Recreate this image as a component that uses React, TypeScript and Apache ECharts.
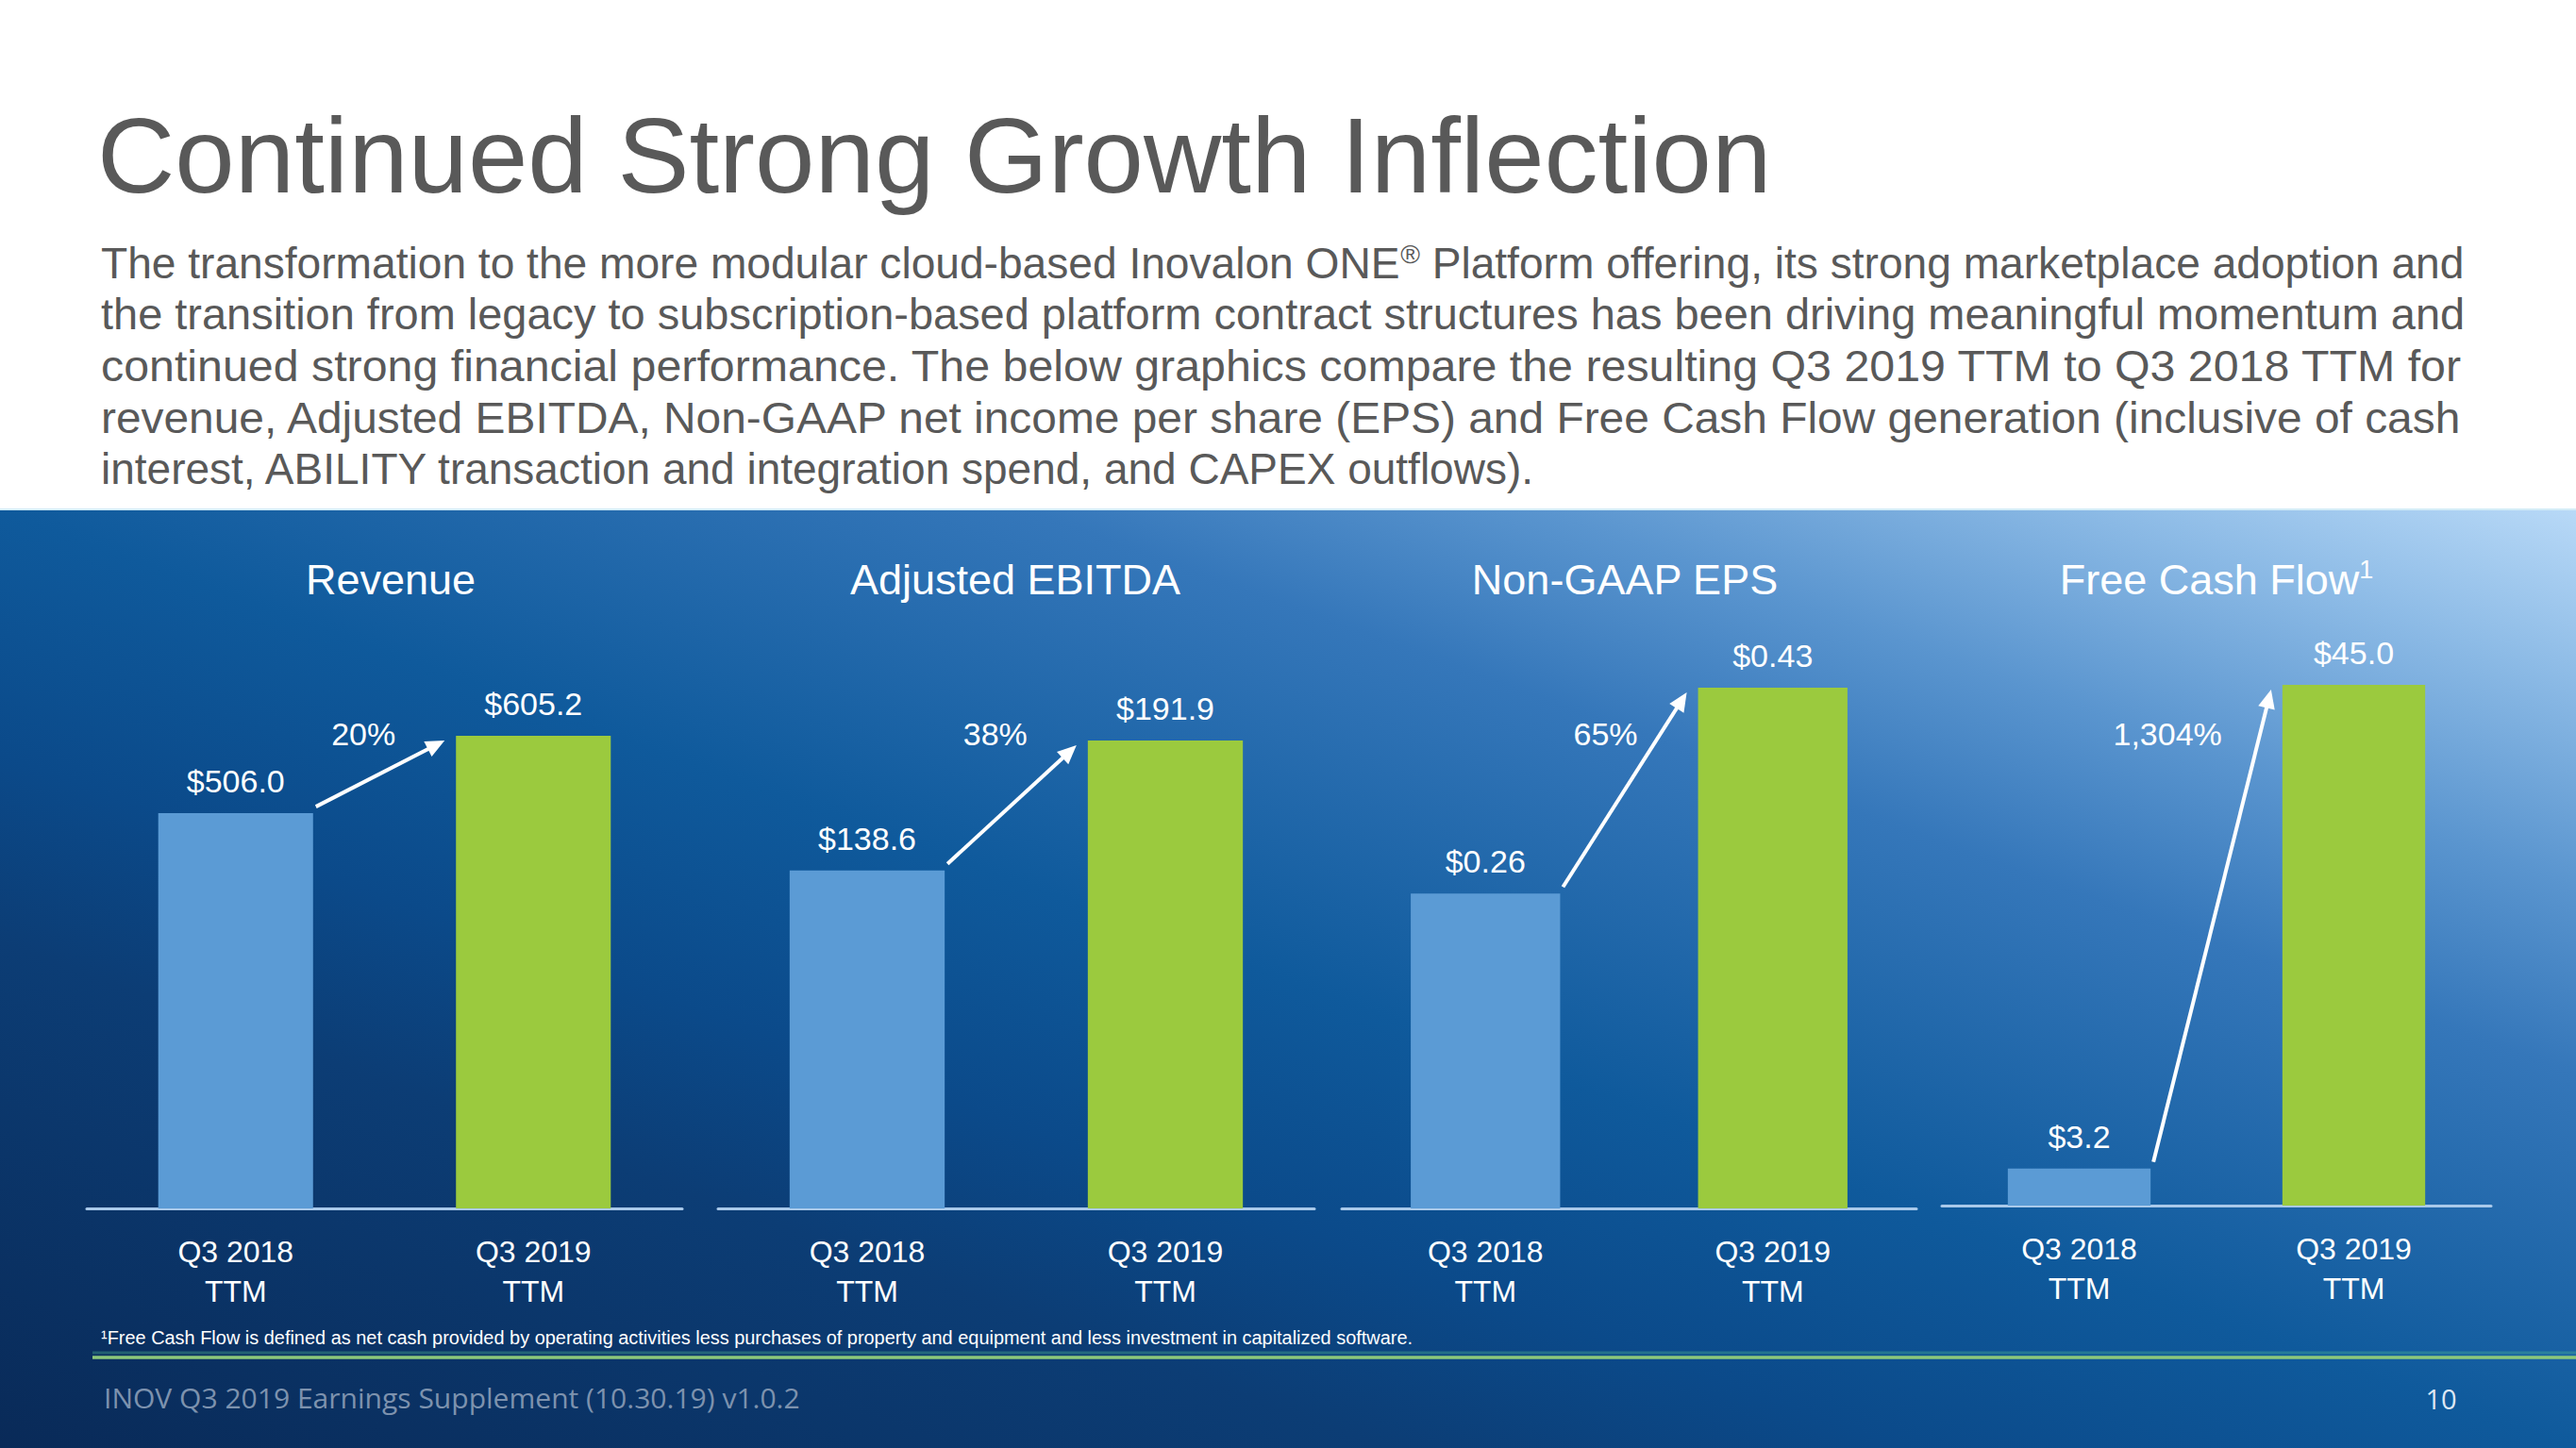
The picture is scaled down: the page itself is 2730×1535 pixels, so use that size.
import React, { useEffect, useRef } from 'react';
import * as echarts from 'echarts';

// ---------- data ----------
const titleText = 'Continued Strong Growth Inflection';
const bodyLine1A = 'The transformation to the more modular cloud-based Inovalon ONE';
const bodyLine1Sup = '®';
const bodyLine1B = ' Platform offering, its strong marketplace adoption and';
const bodyLines = [
  'the transition from legacy to subscription-based platform contract structures has been driving meaningful momentum and',
  'continued strong financial performance. The below graphics compare the resulting Q3 2019 TTM to Q3 2018 TTM for',
  'revenue, Adjusted EBITDA, Non-GAAP net income per share (EPS) and Free Cash Flow generation (inclusive of cash',
  'interest, ABILITY transaction and integration spend, and CAPEX outflows).',
];
const panelTitles = ['Revenue', 'Adjusted EBITDA', 'Non-GAAP EPS', 'Free Cash Flow'];
const panelTitleSup = ['', '', '', '1'];
const categories = ['Q3 2018\nTTM', 'Q3 2019\nTTM'];
const valuesQ3_2018 = [506.0, 138.6, 0.26, 3.2];
const valuesQ3_2019 = [605.2, 191.9, 0.43, 45.0];
const valueDecimals = [1, 1, 2, 1];
const growthLabels = ['20%', '38%', '65%', '1,304%'];
const axisMax = [701.8, 224.8, 0.4526, 47.12];
const footnote =
  '¹Free Cash Flow is defined as net cash provided by operating activities less purchases of property and equipment and less investment in capitalized software.';
const footerText = 'INOV Q3 2019 Earnings Supplement (10.30.19) v1.0.2';
const pageNumber = '10';

// ---------- layout / style ----------
const W = 2730;
const H = 1535;
const FONT = '"Liberation Sans", Arial, Helvetica, sans-serif';
const FOOT_FONT = '"Open Sans", "Liberation Sans", sans-serif';
const BLUE = '#5b9bd5';
const GREEN = '#9bca3e';
const GREY = '#595959';
const gridLeft = [92, 761, 1422, 2058];
const gridWidth = [631, 632, 609, 582];
const gridTop = 700;
const gridBottom = [1281, 1281, 1281, 1278];
const titleX = [414, 1076, 1722, 2349];
const panelTop = 541;

let measureCtx: CanvasRenderingContext2D | null = null;
function measure(text: string, font: string): number {
  if (!measureCtx) measureCtx = document.createElement('canvas').getContext('2d');
  if (!measureCtx) return 1;
  measureCtx.font = font;
  return measureCtx.measureText(text).width;
}

function txt(x: number, y: number, text: string, font: string, fill: string, align = 'left', extra: any = {}) {
  return {
    type: 'text',
    x,
    y,
    ...extra,
    style: {
      text,
      font,
      fill,
      align,
      textAlign: align,
      verticalAlign: 'middle',
      textVerticalAlign: 'middle',
      ...(extra.style || {}),
    },
  };
}

function makeArrow(i: number) {
  return (params: any, api: any) => {
    const a = api.coord([api.value(0), api.value(1)]);
    const b = api.coord([api.value(2), api.value(3)]);
    const band = api.size([1, 0])[0];
    const half = band * 0.26;
    const sx = a[0] + half + 3;
    const sy = a[1] - 7;
    const ex = b[0] - half - 12;
    const ey = b[1] + 5;
    const ang = Math.atan2(ey - sy, ex - sx);
    const c = Math.cos(ang);
    const s = Math.sin(ang);
    const L = 20;
    const Wd = 9;
    const bx = ex - L * c;
    const by = ey - L * s;
    return {
      type: 'group',
      children: [
        {
          type: 'line',
          shape: { x1: sx, y1: sy, x2: bx + 2 * c, y2: by + 2 * s },
          style: { stroke: '#ffffff', lineWidth: 4 },
        },
        {
          type: 'polygon',
          shape: {
            points: [
              [ex, ey],
              [bx + Wd * s, by - Wd * c],
              [bx - Wd * s, by + Wd * c],
            ],
          },
          style: { fill: '#ffffff' },
        },
        {
          type: 'text',
          x: ex - 52,
          y: params.coordSys.y + 78,
          style: {
            text: growthLabels[i],
            font: `34px ${FONT}`,
            fill: '#ffffff',
            align: 'right',
            textAlign: 'right',
            verticalAlign: 'middle',
            textVerticalAlign: 'middle',
          },
        },
      ],
    };
  };
}

function buildOption() {
  const grid: any[] = [];
  const xAxis: any[] = [];
  const yAxis: any[] = [];
  const series: any[] = [];
  for (let i = 0; i < 4; i++) {
    grid.push({
      left: gridLeft[i],
      top: gridTop,
      width: gridWidth[i],
      height: gridBottom[i] - gridTop,
      containLabel: false,
      outerBoundsMode: 'none',
    });
    xAxis.push({
      type: 'category',
      gridIndex: i,
      data: categories,
      axisLine: { show: true, lineStyle: { color: '#a9c9ea', width: 3 } },
      axisTick: { show: false },
      splitLine: { show: false },
      axisLabel: {
        color: '#ffffff',
        fontSize: 32,
        lineHeight: 42,
        margin: 25,
        fontFamily: FONT,
        interval: 0,
      },
    });
    yAxis.push({ type: 'value', gridIndex: i, min: 0, max: axisMax[i], show: false });
    series.push({
      type: 'bar',
      name: panelTitles[i],
      xAxisIndex: i,
      yAxisIndex: i,
      barWidth: '52%',
      z: 2,
      data: [
        { value: valuesQ3_2018[i], itemStyle: { color: BLUE } },
        { value: valuesQ3_2019[i], itemStyle: { color: GREEN } },
      ],
      label: {
        show: true,
        position: 'top',
        distance: 17,
        color: '#ffffff',
        fontSize: 34,
        fontFamily: FONT,
        formatter: (p: any) => '$' + Number(p.value).toFixed(valueDecimals[i]),
      },
    });
    series.push({
      type: 'custom',
      xAxisIndex: i,
      yAxisIndex: i,
      z: 4,
      silent: true,
      data: [[0, valuesQ3_2018[i], 1, valuesQ3_2019[i]]],
      encode: { x: [0, 2], y: [1, 3] },
      renderItem: makeArrow(i),
    });
  }

  const bodyFont = `46px ${FONT}`;
  const bodyLeft = 107;
  const bodyWidth = 2505;
  const bodyY0 = 279;
  const bodyStep = 54.5;
  const graphics: any[] = [];

  // background panel
  graphics.push({
    type: 'rect',
    z: -5,
    shape: { x: 0, y: panelTop, width: W, height: H - panelTop },
    style: {
      fill: {
        type: 'linear',
        global: true,
        x: 0,
        y: H,
        x2: 639,
        y2: -220,
        colorStops: [
          { offset: 0, color: '#092a58' },
          { offset: 0.27, color: '#0c3d75' },
          { offset: 0.37, color: '#0b4a8a' },
          { offset: 0.5, color: '#0f5a9c' },
          { offset: 0.7, color: '#3577ba' },
          { offset: 0.8, color: '#5a95cf' },
          { offset: 0.91, color: '#8dbbe6' },
          { offset: 1, color: '#b8d9f7' },
        ],
      },
    },
  });
  graphics.push({
    type: 'line',
    z: -4,
    shape: { x1: 0, y1: panelTop - 1, x2: W, y2: panelTop - 1 },
    style: { stroke: '#d3ecf7', lineWidth: 2 },
  });

  // title
  graphics.push(txt(103, 164, titleText, `114px ${FONT}`, GREY));

  // body line 1 (with superscript)
  const w1 = measure(bodyLine1A, bodyFont) + measure(bodyLine1Sup, `28px ${FONT}`) + measure(bodyLine1B, bodyFont);
  graphics.push({
    type: 'text',
    x: bodyLeft,
    y: bodyY0,
    scaleX: bodyWidth / w1,
    style: {
      text: `{a|${bodyLine1A}}{s|${bodyLine1Sup}}{a|${bodyLine1B}}`,
      fill: GREY,
      font: bodyFont,
      align: 'left',
      textAlign: 'left',
      verticalAlign: 'middle',
      textVerticalAlign: 'middle',
      rich: {
        a: { fontSize: 46, fontFamily: FONT, fill: GREY, lineHeight: 46 },
        s: { fontSize: 28, fontFamily: FONT, fill: GREY, verticalAlign: 'top', lineHeight: 30 },
      },
    },
  });
  bodyLines.forEach((line, k) => {
    const isLast = k === bodyLines.length - 1;
    const nat = measure(line, bodyFont);
    graphics.push(
      txt(bodyLeft, bodyY0 + (k + 1) * bodyStep, line, bodyFont, GREY, 'left', {
        scaleX: isLast ? 1 : bodyWidth / nat,
      })
    );
  });

  // panel titles
  panelTitles.forEach((t, i) => {
    if (panelTitleSup[i]) {
      graphics.push({
        type: 'text',
        x: titleX[i],
        y: 614,
        z: 5,
        style: {
          text: `{t|${t}}{s|${panelTitleSup[i]}}`,
          fill: '#ffffff',
          font: `45px ${FONT}`,
          align: 'center',
          textAlign: 'center',
          verticalAlign: 'middle',
          textVerticalAlign: 'middle',
          rich: {
            t: { fontSize: 45, fontFamily: FONT, fill: '#ffffff', lineHeight: 48 },
            s: { fontSize: 27, fontFamily: FONT, fill: '#ffffff', verticalAlign: 'top', lineHeight: 30 },
          },
        },
      });
    } else {
      graphics.push(txt(titleX[i], 614, t, `45px ${FONT}`, '#ffffff', 'center', { z: 5 }));
    }
  });

  // footnote
  const fnFont = `21px ${FONT}`;
  graphics.push(
    txt(107, 1417, footnote, fnFont, '#ffffff', 'left', { z: 5, scaleX: 1390 / measure(footnote, fnFont) })
  );
  // green rule
  graphics.push({
    type: 'line',
    z: 5,
    shape: { x1: 98, y1: 1434, x2: W, y2: 1434 },
    style: { stroke: 'rgba(80,190,150,0.35)', lineWidth: 3 },
  });
  graphics.push({
    type: 'line',
    z: 5,
    shape: { x1: 98, y1: 1439, x2: W, y2: 1439 },
    style: { stroke: '#8cc87a', lineWidth: 3.5 },
  });
  // footer
  const ftFont = `29px ${FOOT_FONT}`;
  graphics.push(
    txt(110, 1482, footerText, ftFont, '#7d92ae', 'left', { z: 5, scaleX: 738 / measure(footerText, ftFont) })
  );
  graphics.push(txt(2587, 1482, pageNumber, `29px ${FOOT_FONT}`, '#dce7f4', 'center', { z: 5 }));

  return {
    animation: false,
    backgroundColor: '#ffffff',
    textStyle: { fontFamily: FONT },
    grid,
    xAxis,
    yAxis,
    series,
    graphic: { elements: graphics },
  };
}

export default function App() {
  const ref = useRef<HTMLDivElement>(null);
  useEffect(() => {
    document.body.style.margin = '0';
    document.body.style.overflow = 'hidden';
    const el = ref.current;
    if (!el) return;
    const chart = echarts.init(el, null, { renderer: 'svg', width: W, height: H });
    chart.setOption(buildOption() as any);
    return () => chart.dispose();
  }, []);
  return <div ref={ref} style={{ position: 'absolute', left: 0, top: 0, width: W, height: H }} />;
}
